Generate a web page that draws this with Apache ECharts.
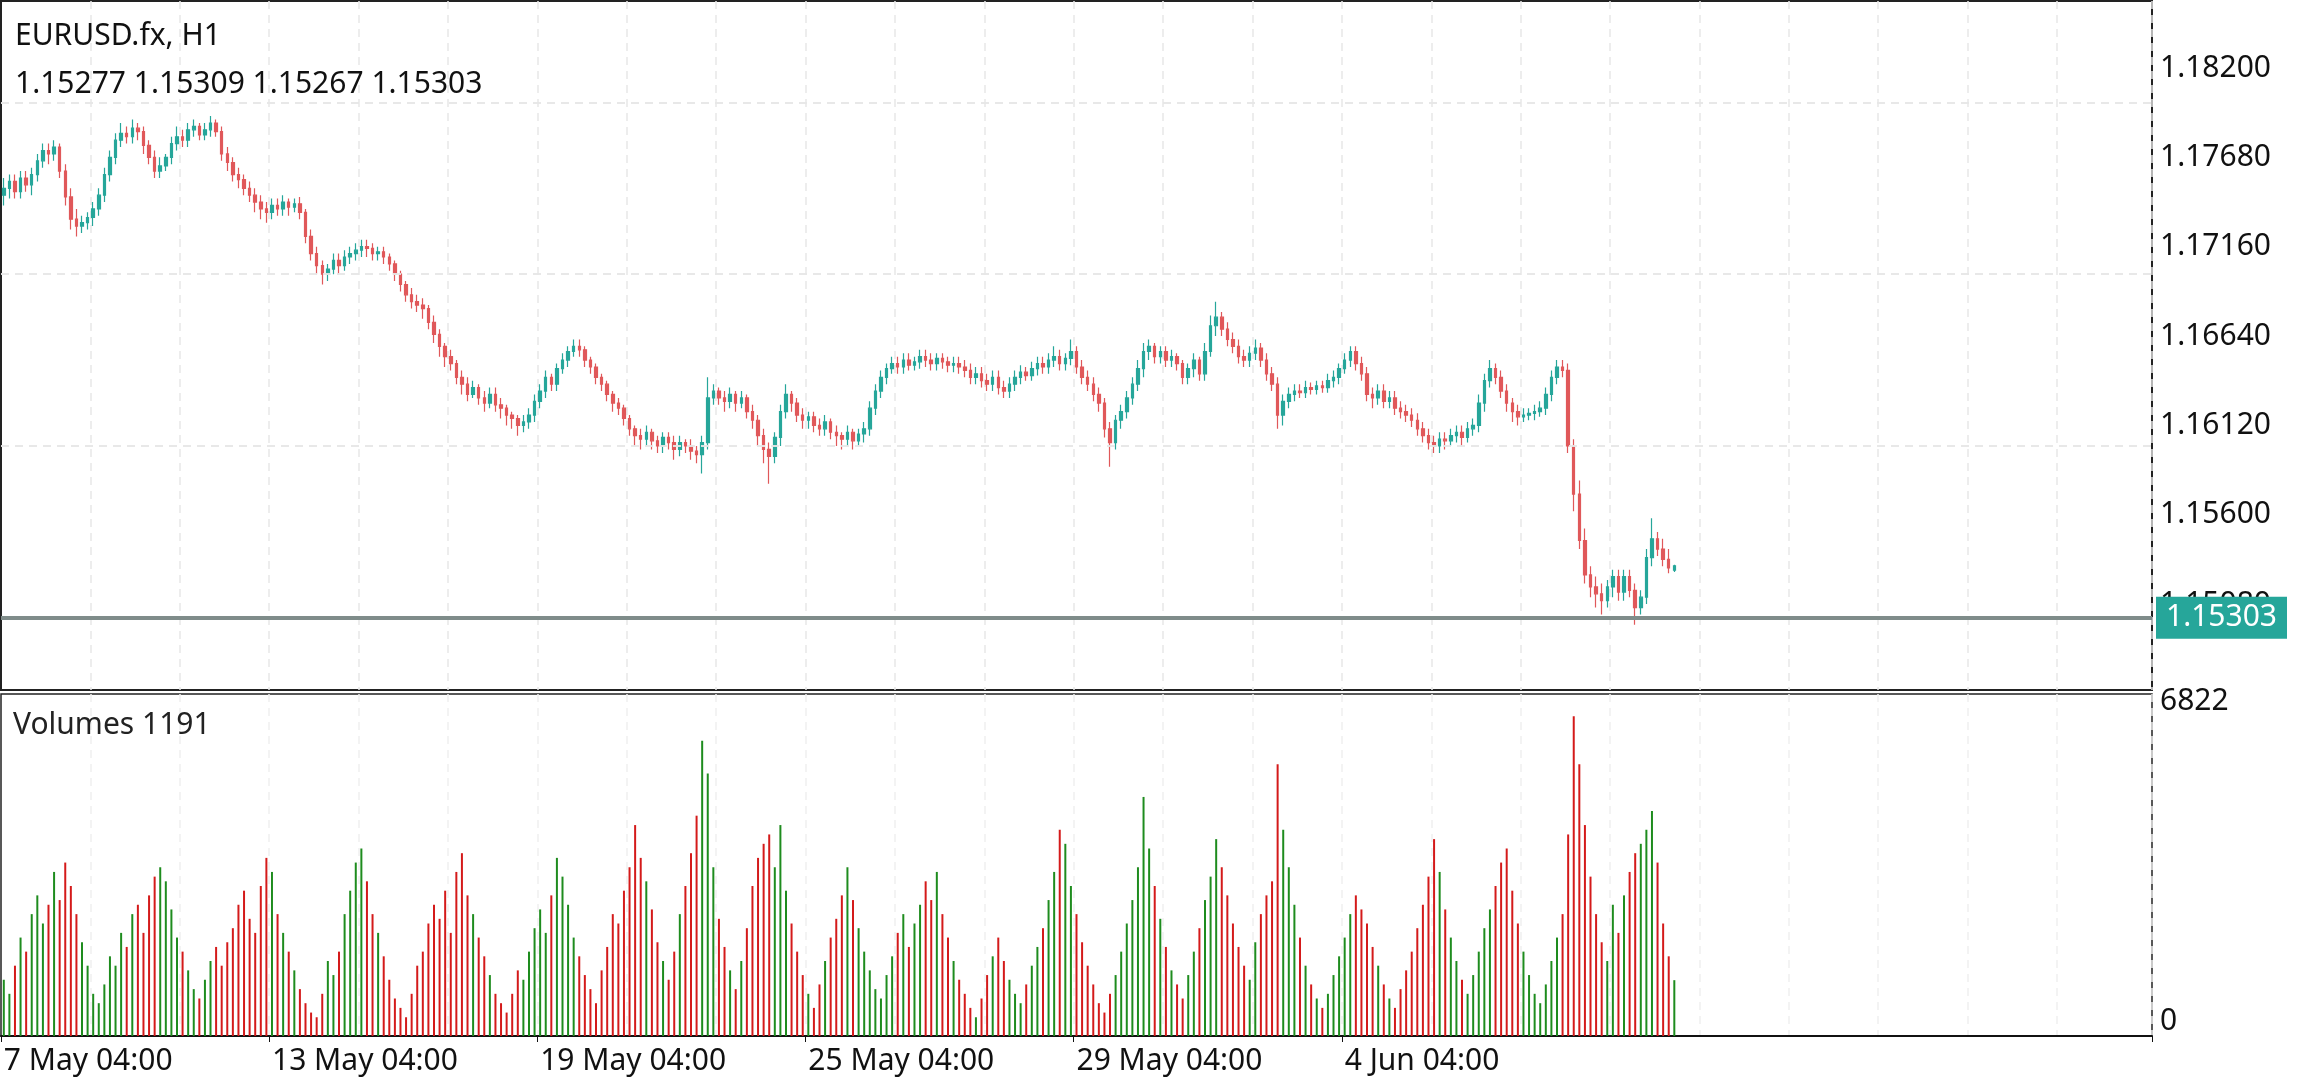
<!DOCTYPE html>
<html><head><meta charset="utf-8">
<script src="https://cdn.jsdelivr.net/npm/echarts@6/dist/echarts.min.js"></script>
<style>html,body{margin:0;padding:0;background:#fff}#c{width:2304px;height:1080px}</style>
</head><body><div id="c"></div>
<script>
const symbolName = 'EURUSD.fx, H1';
const xTickLabels = ['7 May 04:00','13 May 04:00','19 May 04:00','25 May 04:00','29 May 04:00','4 Jun 04:00'];
const priceTicks = [1.15080,1.15600,1.16120,1.16640,1.17160,1.17680,1.18200];
const volumeTicks = [0,6822];
const lastPrice = 1.15303;
const opens = [
1.1746,1.1750,1.1754,1.1748,1.1756,1.1752,1.1758,1.1766,1.1772,1.1770,
1.1774,1.1760,1.1745,1.1732,1.1728,1.1730,1.1733,1.1738,1.1746,1.1758,
1.1768,1.1778,1.1782,1.1780,1.1785,1.1783,1.1775,1.1768,1.1760,1.1763,
1.1768,1.1776,1.1780,1.1778,1.1784,1.1786,1.1781,1.1784,1.1788,1.1783,
1.1770,1.1765,1.1758,1.1755,1.1750,1.1746,1.1742,1.1738,1.1736,1.1740,
1.1738,1.1742,1.1739,1.1741,1.1736,1.1722,1.1712,1.1705,1.1700,1.1703,
1.1708,1.1705,1.1710,1.1712,1.1714,1.1716,1.1715,1.1712,1.1713,1.1710,
1.1706,1.1700,1.1694,1.1688,1.1684,1.1682,1.1680,1.1672,1.1665,1.1658,
1.1652,1.1648,1.1640,1.1636,1.1630,1.1634,1.1628,1.1625,1.1630,1.1624,
1.1622,1.1618,1.1616,1.1612,1.1614,1.1618,1.1626,1.1632,1.1640,1.1636,
1.1645,1.1650,1.1655,1.1658,1.1656,1.1650,1.1646,1.1640,1.1636,1.1630,
1.1625,1.1622,1.1616,1.1610,1.1606,1.1604,1.1608,1.1603,1.1600,1.1605,
1.1602,1.1598,1.1602,1.1600,1.1597,1.1595,1.1602,1.1628,1.1632,1.1628,
1.1626,1.1630,1.1625,1.1628,1.1620,1.1615,1.1606,1.1598,1.1594,1.1605,
1.1620,1.1630,1.1625,1.1618,1.1615,1.1617,1.1612,1.1610,1.1614,1.1608,
1.1606,1.1604,1.1608,1.1603,1.1607,1.1610,1.1622,1.1632,1.1640,1.1645,
1.1648,1.1646,1.1650,1.1647,1.1649,1.1652,1.1650,1.1648,1.1651,1.1649,
1.1647,1.1648,1.1646,1.1644,1.1640,1.1642,1.1638,1.1636,1.1640,1.1634,
1.1632,1.1636,1.1640,1.1643,1.1641,1.1645,1.1648,1.1646,1.1650,1.1652,
1.1648,1.1651,1.1655,1.1646,1.1640,1.1636,1.1630,1.1625,1.1610,1.1602,
1.1615,1.1620,1.1628,1.1636,1.1645,1.1655,1.1658,1.1652,1.1655,1.1650,
1.1652,1.1648,1.1640,1.1645,1.1650,1.1642,1.1655,1.1670,1.1675,1.1668,
1.1662,1.1658,1.1652,1.1650,1.1654,1.1657,1.1650,1.1642,1.1636,1.1618,
1.1626,1.1630,1.1632,1.1631,1.1634,1.1633,1.1635,1.1634,1.1638,1.1640,
1.1645,1.1650,1.1655,1.1648,1.1642,1.1630,1.1628,1.1632,1.1626,1.1628,
1.1622,1.1620,1.1618,1.1615,1.1610,1.1606,1.1602,1.1600,1.1604,1.1603,
1.1606,1.1608,1.1605,1.1610,1.1612,1.1625,1.1638,1.1645,1.1640,1.1632,
1.1625,1.1620,1.1617,1.1618,1.1619,1.1620,1.1622,1.1630,1.1640,1.1646,
1.1644,1.1600,1.1572,1.1545,1.1525,1.1518,1.1514,1.1510,1.1518,1.1524,
1.1515,1.1524,1.1516,1.1506,1.1512,1.1535,1.1546,1.1540,1.1534,1.15277];
const closes = [
1.1750,1.1754,1.1748,1.1756,1.1752,1.1758,1.1766,1.1772,1.1770,1.1774,
1.1760,1.1745,1.1732,1.1728,1.1730,1.1733,1.1738,1.1746,1.1758,1.1768,
1.1778,1.1782,1.1780,1.1785,1.1783,1.1775,1.1768,1.1760,1.1763,1.1768,
1.1776,1.1780,1.1778,1.1784,1.1786,1.1781,1.1784,1.1788,1.1783,1.1770,
1.1765,1.1758,1.1755,1.1750,1.1746,1.1742,1.1738,1.1736,1.1740,1.1738,
1.1742,1.1739,1.1741,1.1736,1.1722,1.1712,1.1705,1.1700,1.1703,1.1708,
1.1705,1.1710,1.1712,1.1714,1.1716,1.1715,1.1712,1.1713,1.1710,1.1706,
1.1700,1.1694,1.1688,1.1684,1.1682,1.1680,1.1672,1.1665,1.1658,1.1652,
1.1648,1.1640,1.1636,1.1630,1.1634,1.1628,1.1625,1.1630,1.1624,1.1622,
1.1618,1.1616,1.1612,1.1614,1.1618,1.1626,1.1632,1.1640,1.1636,1.1645,
1.1650,1.1655,1.1658,1.1656,1.1650,1.1646,1.1640,1.1636,1.1630,1.1625,
1.1622,1.1616,1.1610,1.1606,1.1604,1.1608,1.1603,1.1600,1.1605,1.1602,
1.1598,1.1602,1.1600,1.1597,1.1595,1.1602,1.1628,1.1632,1.1628,1.1626,
1.1630,1.1625,1.1628,1.1620,1.1615,1.1606,1.1598,1.1594,1.1605,1.1620,
1.1630,1.1625,1.1618,1.1615,1.1617,1.1612,1.1610,1.1614,1.1608,1.1606,
1.1604,1.1608,1.1603,1.1607,1.1610,1.1622,1.1632,1.1640,1.1645,1.1648,
1.1646,1.1650,1.1647,1.1649,1.1652,1.1650,1.1648,1.1651,1.1649,1.1647,
1.1648,1.1646,1.1644,1.1640,1.1642,1.1638,1.1636,1.1640,1.1634,1.1632,
1.1636,1.1640,1.1643,1.1641,1.1645,1.1648,1.1646,1.1650,1.1652,1.1648,
1.1651,1.1655,1.1646,1.1640,1.1636,1.1630,1.1625,1.1610,1.1602,1.1615,
1.1620,1.1628,1.1636,1.1645,1.1655,1.1658,1.1652,1.1655,1.1650,1.1652,
1.1648,1.1640,1.1645,1.1650,1.1642,1.1655,1.1670,1.1675,1.1668,1.1662,
1.1658,1.1652,1.1650,1.1654,1.1657,1.1650,1.1642,1.1636,1.1618,1.1626,
1.1630,1.1632,1.1631,1.1634,1.1633,1.1635,1.1634,1.1638,1.1640,1.1645,
1.1650,1.1655,1.1648,1.1642,1.1630,1.1628,1.1632,1.1626,1.1628,1.1622,
1.1620,1.1618,1.1615,1.1610,1.1606,1.1602,1.1600,1.1604,1.1603,1.1606,
1.1608,1.1605,1.1610,1.1612,1.1625,1.1638,1.1645,1.1640,1.1632,1.1625,
1.1620,1.1617,1.1618,1.1619,1.1620,1.1622,1.1630,1.1640,1.1646,1.1644,
1.1600,1.1572,1.1545,1.1525,1.1518,1.1514,1.1510,1.1518,1.1524,1.1515,
1.1524,1.1516,1.1506,1.1512,1.1535,1.1546,1.1540,1.1534,1.1529,1.15303];
const highs = [
1.1756,1.1758,1.1758,1.1760,1.1760,1.1762,1.1770,1.1776,1.1776,1.1778,
1.1776,1.1764,1.1750,1.1738,1.1734,1.1736,1.1742,1.1750,1.1762,1.1772,
1.1782,1.1788,1.1786,1.1790,1.1788,1.1786,1.1778,1.1772,1.1768,1.1770,
1.1780,1.1786,1.1784,1.1788,1.1790,1.1788,1.1788,1.1792,1.1790,1.1786,
1.1774,1.1768,1.1762,1.1758,1.1754,1.1750,1.1746,1.1742,1.1744,1.1744,
1.1746,1.1744,1.1744,1.1745,1.1738,1.1726,1.1716,1.1708,1.1706,1.1712,
1.1712,1.1714,1.1716,1.1718,1.1720,1.1720,1.1718,1.1716,1.1716,1.1712,
1.1708,1.1702,1.1696,1.1692,1.1688,1.1686,1.1682,1.1676,1.1668,1.1660,
1.1656,1.1650,1.1644,1.1640,1.1638,1.1636,1.1632,1.1634,1.1634,1.1628,
1.1624,1.1620,1.1618,1.1618,1.1622,1.1630,1.1636,1.1644,1.1642,1.1648,
1.1654,1.1658,1.1662,1.1662,1.1658,1.1652,1.1648,1.1642,1.1638,1.1632,
1.1628,1.1624,1.1618,1.1612,1.1610,1.1612,1.1610,1.1606,1.1608,1.1608,
1.1606,1.1606,1.1604,1.1604,1.1600,1.1606,1.1640,1.1636,1.1634,1.1632,
1.1634,1.1632,1.1632,1.1630,1.1624,1.1618,1.1610,1.1602,1.1608,1.1624,
1.1636,1.1632,1.1628,1.1622,1.1620,1.1620,1.1616,1.1618,1.1616,1.1612,
1.1608,1.1612,1.1610,1.1610,1.1614,1.1626,1.1636,1.1644,1.1648,1.1652,
1.1652,1.1654,1.1654,1.1652,1.1656,1.1656,1.1654,1.1654,1.1654,1.1652,
1.1652,1.1652,1.1650,1.1648,1.1646,1.1646,1.1642,1.1644,1.1644,1.1638,
1.1640,1.1644,1.1647,1.1646,1.1649,1.1652,1.1652,1.1654,1.1658,1.1656,
1.1654,1.1662,1.1658,1.1650,1.1644,1.1640,1.1634,1.1628,1.1614,1.1618,
1.1624,1.1632,1.1640,1.1650,1.1660,1.1662,1.1660,1.1658,1.1658,1.1656,
1.1654,1.1650,1.1648,1.1654,1.1652,1.1660,1.1676,1.1684,1.1678,1.1672,
1.1666,1.1662,1.1656,1.1658,1.1662,1.1660,1.1654,1.1646,1.1640,1.1630,
1.1634,1.1636,1.1636,1.1638,1.1637,1.1638,1.1638,1.1642,1.1644,1.1648,
1.1654,1.1658,1.1658,1.1652,1.1646,1.1634,1.1636,1.1636,1.1632,1.1632,
1.1626,1.1624,1.1622,1.1619,1.1614,1.1610,1.1606,1.1608,1.1608,1.1610,
1.1612,1.1612,1.1614,1.1616,1.1630,1.1642,1.1650,1.1648,1.1644,1.1636,
1.1628,1.1624,1.1622,1.1622,1.1624,1.1626,1.1634,1.1644,1.1650,1.1650,
1.1648,1.1604,1.1580,1.1552,1.1530,1.1524,1.1520,1.1522,1.1528,1.1528,
1.1528,1.1528,1.1520,1.1516,1.1540,1.1558,1.1550,1.1546,1.1540,1.15309];
const lows = [
1.1740,1.1744,1.1744,1.1744,1.1748,1.1746,1.1754,1.1762,1.1764,1.1766,
1.1756,1.1740,1.1726,1.1722,1.1724,1.1726,1.1728,1.1734,1.1742,1.1754,
1.1764,1.1774,1.1776,1.1776,1.1778,1.1770,1.1764,1.1756,1.1756,1.1760,
1.1764,1.1772,1.1774,1.1774,1.1780,1.1778,1.1778,1.1780,1.1780,1.1766,
1.1760,1.1754,1.1750,1.1746,1.1742,1.1736,1.1732,1.1730,1.1732,1.1734,
1.1734,1.1734,1.1736,1.1732,1.1718,1.1708,1.1700,1.1694,1.1696,1.1700,
1.1700,1.1702,1.1706,1.1708,1.1710,1.1710,1.1708,1.1708,1.1706,1.1702,
1.1696,1.1690,1.1684,1.1680,1.1678,1.1674,1.1668,1.1660,1.1652,1.1646,
1.1644,1.1636,1.1630,1.1626,1.1628,1.1624,1.1620,1.1622,1.1620,1.1616,
1.1612,1.1610,1.1606,1.1608,1.1610,1.1614,1.1622,1.1628,1.1632,1.1632,
1.1642,1.1646,1.1652,1.1652,1.1646,1.1642,1.1636,1.1632,1.1626,1.1620,
1.1618,1.1612,1.1606,1.1600,1.1598,1.1600,1.1598,1.1596,1.1596,1.1598,
1.1592,1.1594,1.1596,1.1592,1.1590,1.1584,1.1598,1.1624,1.1624,1.1620,
1.1622,1.1620,1.1622,1.1616,1.1610,1.1600,1.1590,1.1578,1.1590,1.1600,
1.1616,1.1620,1.1614,1.1610,1.1610,1.1608,1.1606,1.1606,1.1604,1.1600,
1.1598,1.1600,1.1598,1.1600,1.1602,1.1606,1.1618,1.1628,1.1636,1.1642,
1.1642,1.1642,1.1644,1.1644,1.1645,1.1646,1.1644,1.1644,1.1645,1.1643,
1.1643,1.1642,1.1640,1.1636,1.1636,1.1634,1.1632,1.1632,1.1630,1.1628,
1.1628,1.1632,1.1636,1.1638,1.1638,1.1641,1.1642,1.1642,1.1646,1.1644,
1.1644,1.1647,1.1642,1.1636,1.1632,1.1626,1.1620,1.1605,1.1588,1.1598,
1.1610,1.1616,1.1624,1.1632,1.1640,1.1650,1.1648,1.1648,1.1646,1.1646,
1.1644,1.1636,1.1636,1.1640,1.1638,1.1638,1.1652,1.1664,1.1664,1.1658,
1.1654,1.1648,1.1646,1.1646,1.1650,1.1646,1.1638,1.1632,1.1610,1.1612,
1.1622,1.1626,1.1628,1.1628,1.1630,1.1630,1.1631,1.1631,1.1634,1.1636,
1.1642,1.1646,1.1644,1.1638,1.1626,1.1622,1.1624,1.1622,1.1622,1.1618,
1.1616,1.1614,1.1611,1.1606,1.1602,1.1598,1.1596,1.1596,1.1598,1.1600,
1.1602,1.1600,1.1602,1.1606,1.1608,1.1620,1.1634,1.1636,1.1628,1.1620,
1.1614,1.1612,1.1614,1.1615,1.1615,1.1617,1.1618,1.1626,1.1636,1.1640,
1.1596,1.1562,1.1540,1.1520,1.1512,1.1506,1.1502,1.1506,1.1512,1.1510,
1.1510,1.1512,1.1496,1.1502,1.1508,1.1530,1.1536,1.1530,1.1526,1.15267];
const volumes = [
1200,900,1500,2100,1800,2600,3000,2400,2800,3500,
2900,3700,3200,2600,2000,1500,900,700,1100,1700,
1500,2200,1900,2600,2800,2200,3000,3400,3600,3300,
2700,2100,1800,1400,1000,800,1200,1600,1900,1500,
2000,2300,2800,3100,2500,2200,3200,3800,3500,2600,
2200,1800,1400,1000,700,500,400,900,1600,1300,
1800,2600,3100,3700,4000,3300,2600,2200,1700,1200,
800,600,400,900,1500,1800,2400,2800,2500,3100,
2200,3500,3900,3000,2600,2100,1700,1300,900,700,
500,900,1400,1200,1800,2300,2700,2200,3000,3800,
3400,2800,2100,1700,1300,1000,700,1400,1900,2600,
2400,3100,3600,4500,3800,3300,2700,2000,1600,1200,
1800,2600,3200,3900,4700,6300,5600,3600,2500,1900,
1400,1000,1600,2300,3200,3800,4100,4300,3600,4500,
3100,2400,1800,1300,900,600,1100,1600,2100,2500,
3000,3600,2900,2300,1800,1400,1000,800,1300,1700,
2200,2600,1900,2400,2800,3300,2900,3500,2600,2100,
1600,1200,900,600,400,800,1300,1700,2100,1600,
1200,900,700,1100,1500,1900,2300,2900,3500,4400,
4100,3200,2600,2000,1500,1100,700,500,900,1300,
1800,2400,2900,3600,5100,4000,3200,2500,1900,1400,
1100,800,1300,1800,2300,2900,3400,4200,3600,3000,
2400,1900,1500,1200,2000,2600,3000,3300,5800,4400,
3600,2800,2100,1500,1100,800,600,900,1300,1700,
2100,2600,3000,2700,2400,1900,1500,1100,800,600,
1000,1400,1800,2300,2800,3400,4200,3500,2700,2100,
1600,1200,900,1300,1800,2300,2700,3200,3700,4000,
3100,2400,1800,1300,900,700,1100,1600,2100,2600,
4300,6822,5800,4500,3400,2600,2000,1600,2800,2200,
3000,3500,3900,4100,4400,4800,3700,2400,1700,1191];

const N = closes.length;
const TOTAL = 385;
const LABEL_EVERY = 48, GRID_EVERY = 16;
const cats = Array.from({length: TOTAL}, (_, i) => String(i));
const candleData = cats.map((_, i) => i < N ? [opens[i], closes[i], Math.min(lows[i], opens[i], closes[i]), Math.max(highs[i], opens[i], closes[i])] : '-');
const UP = '#26a69a', DOWN = '#e0585a';
const volData = cats.map((_, i) => i < N ? {value: volumes[i], itemStyle: {color: closes[i] >= opens[i] ? '#1e8c1e' : '#d41a1a'}} : '-');
const FONT = 'Noto Sans';
const gridLinesPrice = priceTicks.map(v => ({yAxis: v, lineStyle: {color: '#e6e6e6', type: [8, 6], width: 1.5}, label: {show: false}}));

const chart = echarts.init(document.getElementById('c'));
chart.setOption({
  animation: false,
  backgroundColor: '#fff',
  textStyle: {fontFamily: FONT},
  title: [
    {text: symbolName, left: 10, top: 16, textStyle: {fontFamily: FONT, fontSize: 30, fontWeight: 'normal', color: '#111'}},
    {text: [opens[N-1].toFixed(5), highs[N-1].toFixed(5), lows[N-1].toFixed(5), closes[N-1].toFixed(5)].join(' '), left: 10, top: 64, textStyle: {fontFamily: FONT, fontSize: 30, fontWeight: 'normal', color: '#111'}},
    {text: 'Volumes ' + volumes[N-1], left: 8, top: 705, textStyle: {fontFamily: FONT, fontSize: 30, fontWeight: 'normal', color: '#222'}}
  ],
  grid: [
    {left: 1, right: 152, top: 1, bottom: 390, show: true, borderColor: '#222', borderWidth: 2},
    {left: 1, right: 152, top: 694, bottom: 44, show: true, borderColor: '#222', borderWidth: 1.5}
  ],
  xAxis: [
    {type: 'category', gridIndex: 0, data: cats, boundaryGap: true,
     axisLine: {show: false}, axisTick: {show: false}, axisLabel: {show: false},
     splitLine: {show: true, interval: (i) => i % GRID_EVERY === 0 && i > 0 && i < TOTAL - 8, lineStyle: {color: '#e8e8e8', type: [8, 6], width: 1.5}}},
    {type: 'category', gridIndex: 1, data: cats, boundaryGap: true,
     axisLine: {show: true, lineStyle: {color: '#111', width: 2}},
     axisTick: {show: true, interval: (i) => i % LABEL_EVERY === 0 && i / LABEL_EVERY < xTickLabels.length, length: 6, lineStyle: {color: '#111'}},
     axisLabel: {show: true, interval: (i) => i % LABEL_EVERY === 0 && i / LABEL_EVERY < xTickLabels.length,
       formatter: (v, i) => xTickLabels[i / LABEL_EVERY] || '', align: 'left', fontSize: 30, color: '#111', margin: 10, fontFamily: FONT},
     splitLine: {show: true, interval: (i) => i % GRID_EVERY === 0 && i > 0 && i < TOTAL - 8, lineStyle: {color: '#efefef', type: [8, 6], width: 1.5}}}
  ],
  yAxis: [
    {type: 'value', gridIndex: 0, position: 'right', min: 1.14580, max: 1.18590,
     axisLine: {show: false}, axisTick: {show: false}, splitLine: {show: false},
     axisLabel: {show: true, customValues: priceTicks, formatter: (v) => v.toFixed(5), fontSize: 30, color: '#111', margin: 8, fontFamily: FONT}},
    {type: 'value', gridIndex: 1, position: 'right', min: 0, max: 7296,
     axisLine: {show: false}, axisTick: {show: false}, splitLine: {show: false},
     axisLabel: {show: true, customValues: volumeTicks, formatter: (v) => String(v), fontSize: 30, color: '#111', margin: 8, fontFamily: FONT,
       verticalAlign: 'bottom'}}
  ],
  series: [
    {type: 'line', xAxisIndex: 0, yAxisIndex: 0, data: [], silent: true, symbol: 'none',
     markLine: {silent: true, symbol: 'none', animation: false, data: gridLinesPrice}},
    {type: 'candlestick', xAxisIndex: 0, yAxisIndex: 0, data: candleData, barWidth: 3,
     itemStyle: {color: UP, color0: DOWN, borderColor: UP, borderColor0: DOWN, borderWidth: 1.2}},
    {type: 'line', xAxisIndex: 0, yAxisIndex: 0, data: [], silent: true, symbol: 'none', z: 5,
     markLine: {silent: true, symbol: 'none', animation: false,
       data: [{yAxis: lastPrice, lineStyle: {color: '#7f8c8a', type: 'solid', width: 4},
         label: {show: true, position: 'end', formatter: lastPrice.toFixed(5), backgroundColor: UP, color: '#fff', fontSize: 30,
           padding: [6, 10, 6, 10], distance: 4, fontFamily: FONT}}]}},
    {type: 'bar', xAxisIndex: 1, yAxisIndex: 1, data: volData, barWidth: 2}
  ]
});
</script></body></html>
